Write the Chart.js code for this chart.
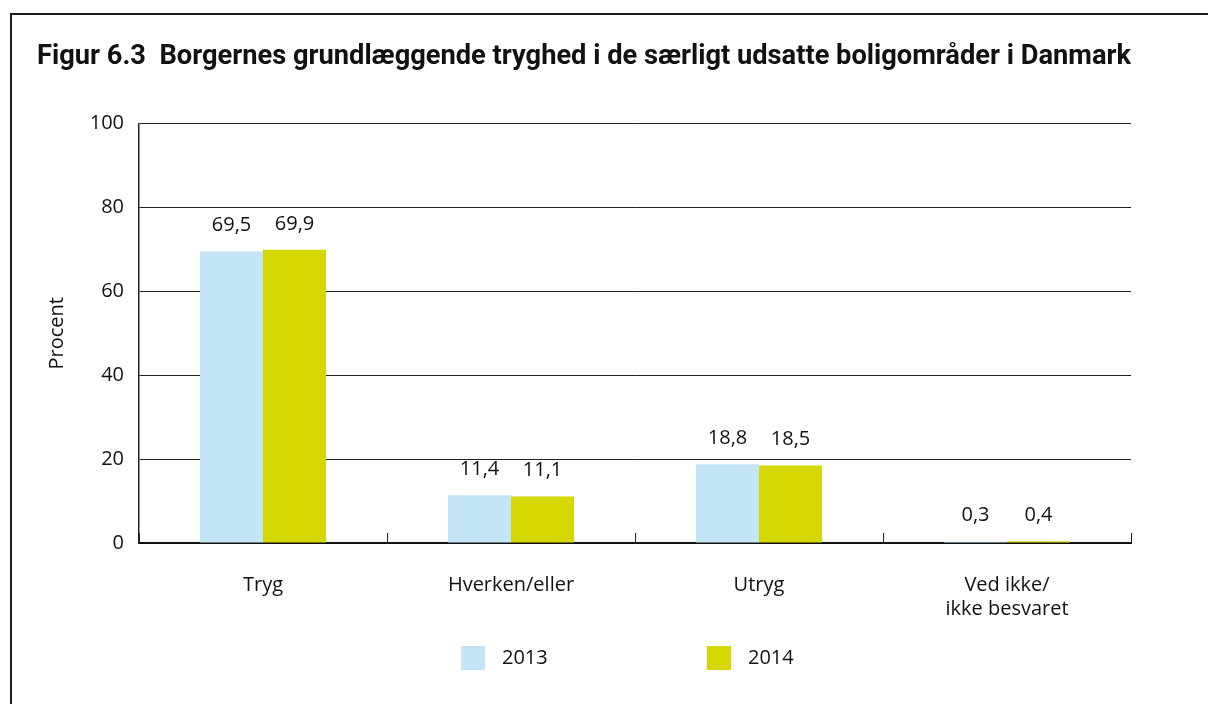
<!DOCTYPE html>
<html>
<head>
<meta charset="utf-8">
<script src="https://cdn.jsdelivr.net/npm/chart.js@4.4.1/dist/chart.umd.min.js"></script>
<style>
  html, body { margin: 0; padding: 0; background: #fff; }
  #wrap { position: relative; width: 1208px; height: 704px; overflow: hidden; }
  #ramme { position: absolute; left: 10px; top: 13px; width: 1300px; height: 800px;
           border-left: 2px solid #1b1b1b; border-top: 2px solid #1b1b1b; }
  #chart { position: absolute; left: 0; top: 0; }
</style>
</head>
<body>
<div id="wrap">
  <div id="ramme"></div>
  <canvas id="chart" width="1208" height="704"></canvas>
</div>
<script>
// ==========================
// DATA
// ==========================
const kategorier = ["Tryg", "Hverken/eller", "Utryg", ["Ved ikke/", "ikke besvaret"]];
const aar = ["2013", "2014"];
const andel2013 = [69.5, 11.4, 18.8, 0.3];
const andel2014 = [69.9, 11.1, 18.5, 0.4];
const yTicks = [0, 20, 40, 60, 80, 100];
const farver = ["#c4e4f8", "#d4d800"];
const titel = "Figur 6.3  Borgernes grundlæggende tryghed i de særligt udsatte boligområder i Danmark";

const tekstFont = '"Open Sans", "Noto Sans", sans-serif';

// ==========================
// HELPER
// ==========================
function kommaTal(v) {
  return v.toFixed(1).replace(".", ",");
}

// ==========================
// PLUGINS
// ==========================
const vaerdiLabels = {
  id: "vaerdiLabels",
  afterDatasetsDraw(chart) {
    const ctx = chart.ctx;
    ctx.save();
    ctx.font = "20px " + tekstFont;
    ctx.fillStyle = "#111";
    ctx.textAlign = "center";
    ctx.textBaseline = "middle";
    chart.data.datasets.forEach((ds, i) => {
      chart.getDatasetMeta(i).data.forEach((bar, j) => {
        ctx.fillText(kommaTal(ds.data[j]), bar.x, bar.y - 26);
      });
    });
    ctx.restore();
  }
};

const legendRaekke = {
  id: "legendRaekke",
  afterDraw(chart) {
    const { ctx, chartArea } = chart;
    const midt = (chartArea.left + chartArea.right) / 2;
    const startX = [midt - 174, midt + 72];
    const y = 658;
    ctx.save();
    ctx.font = "20px " + tekstFont;
    ctx.textBaseline = "middle";
    chart.data.datasets.forEach((ds, i) => {
      ctx.fillStyle = ds.backgroundColor;
      ctx.fillRect(startX[i], y - 12, 24, 24);
      ctx.fillStyle = "#111";
      ctx.fillText(ds.label, startX[i] + 41, y);
    });
    ctx.restore();
  }
};

// ==========================
// CHART
// ==========================
new Chart(document.getElementById("chart"), {
  type: "bar",
  data: {
    labels: kategorier,
    datasets: [
      { label: aar[0], data: andel2013, backgroundColor: farver[0] },
      { label: aar[1], data: andel2014, backgroundColor: farver[1] }
    ]
  },
  options: {
    responsive: false,
    animation: false,
    layout: { padding: { left: 37, right: 77, top: 30, bottom: 0 } },
    datasets: {
      bar: { categoryPercentage: 0.508, barPercentage: 1, borderWidth: 0 }
    },
    plugins: {
      legend: { display: false },
      tooltip: { enabled: false },
      title: {
        display: true,
        text: titel,
        align: "start",
        color: "#111",
        font: { family: '"Liberation Sans Narrow", Roboto, sans-serif', size: 28, weight: "bold" },
        padding: { top: 10, bottom: 50 }
      }
    },
    scales: {
      x: {
        grid: {
          offset: true,
          drawOnChartArea: false,
          drawTicks: true,
          tickLength: -10,
          color: "#222",
          lineWidth: 1
        },
        border: { display: true, color: "#111", width: 2 },
        ticks: { color: "#111", font: { family: tekstFont, size: 20 }, padding: 40 },
        afterFit(scale) { scale.height = 161; }
      },
      y: {
        min: 0,
        max: 100,
        afterBuildTicks(scale) { scale.ticks = yTicks.map(v => ({ value: v })); },
        grid: { color: "#222", lineWidth: 1, drawTicks: false },
        border: { display: true, color: "#222", width: 1.5 },
        ticks: { color: "#111", font: { family: tekstFont, size: 20 }, padding: 15 },
        title: {
          display: true,
          text: "Procent",
          color: "#111",
          font: { family: tekstFont, size: 20 },
          padding: { top: 8 }
        },
        afterFit(scale) { scale.width = 102; }
      }
    }
  },
  plugins: [vaerdiLabels, legendRaekke]
});
</script>
</body>
</html>
